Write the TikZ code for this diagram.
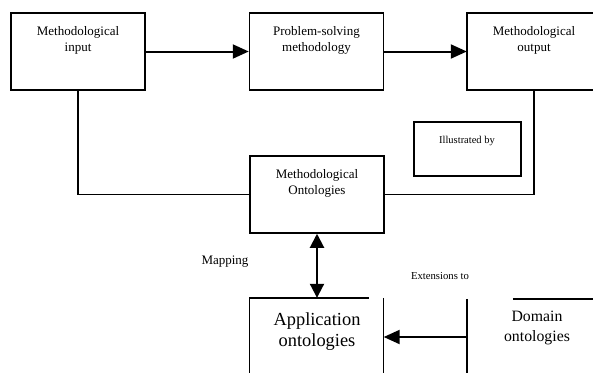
\documentclass[tikz,border=0pt]{standalone}
\usepackage{fontspec}
\setmainfont{Liberation Serif}
\usetikzlibrary{arrows.meta}
\begin{document}
\begin{tikzpicture}[x=1pt,y=-1pt,
  boxline/.style={line width=1.5pt},
  bigbox/.style={draw,line width=1.5pt,minimum width=134pt,minimum height=77pt,inner sep=0pt},
  openbox/.style={minimum width=134pt,minimum height=100pt,inner sep=0pt},
  lbl/.style={inner sep=0pt,align=center,font=\fontsize{13}{16}\selectfont},
  arr/.style={line width=2pt,-{Triangle[length=16pt,width=14pt]}},
  darr/.style={line width=2pt,{Triangle[length=14pt,width=14pt]}-{Triangle[length=14pt,width=14pt]}},
  conn/.style={line width=1.5pt}]
\clip (0,0) rectangle (593,372);
\fill[white] (0,0) rectangle (593,372);
% boxes
\node[bigbox] (in) at (78,51.5) {};
\node[bigbox] (ps) at (316.5,51.5) {};
\node[openbox,minimum height=77pt] (out) at (534,51.5) {};
\node[bigbox] (mo) at (317,194.5) {};
\node[draw,line width=1.5pt,minimum width=107pt,minimum height=54pt,inner sep=0pt] (ill) at (467.5,149) {};
\node[openbox] (app) at (316.5,348) {};
\node[openbox] (dom) at (534,349) {};
% output box (cut by the right edge)
\draw[boxline] (out.north east) -- (out.north west) -- (out.south west) -- (out.south east);
% application box (gap at the top right)
\draw[boxline] ([xshift=-15pt]app.north east) -- (app.north west) -- (app.south west);
\draw[boxline] (app.north east) -- (app.south east);
% domain box (gap at the top left)
\draw[boxline] (dom.north west) -- (dom.south west);
\draw[boxline] ([xshift=46pt]dom.north west) -- (dom.north east);
% texts
\node[lbl] at (78,40) {Methodological\\input};
\node[lbl] at (316.5,40) {Problem-solving\\methodology};
\node[lbl] at (534,40) {Methodological\\output};
\node[lbl] at (317,183.5) {Methodological\\Ontologies};
\node[inner sep=0pt,font=\fontsize{10.5}{12}\selectfont] at (467,141) {Illustrated by};
\node[inner sep=0pt,align=center,font=\fontsize{18.4}{21}\selectfont] at (317,331.5) {Application\\ontologies};
\node[inner sep=0pt,align=center,font=\fontsize{15.8}{20}\selectfont] at (537,328) {Domain\\ontologies};
\node[inner sep=0pt,font=\fontsize{13}{16}\selectfont] (map) at (225,262) {Mapping};
\node[inner sep=0pt,font=\fontsize{10.7}{12}\selectfont] (ext) at (440,276) {Extensions to};
% connectors
\draw[arr] (in.east) -- (ps.west);
\draw[arr] (ps.east) -- (out.west);
\draw[conn] (in.south) |- (mo.west);
\draw[conn] (out.south) |- (mo.east);
\draw[darr] (mo.south) -- (mo.south |- app.north);
\draw[arr] ([yshift=12pt]dom.west) -- ([yshift=12pt]dom.west -| app.east);
\end{tikzpicture}
\end{document}
